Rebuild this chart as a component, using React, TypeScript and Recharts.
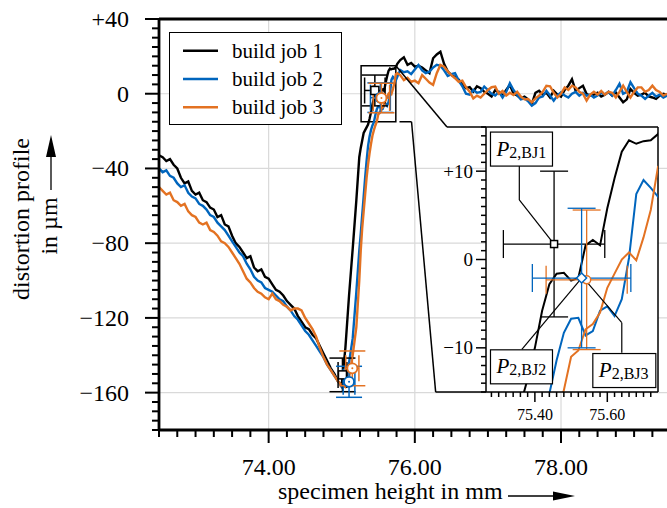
import React from 'react';
import {
  ComposedChart,
  Line,
  Scatter,
  XAxis,
  YAxis,
  CartesianGrid,
  ReferenceLine,
  ReferenceArea,
  ReferenceDot,
  ErrorBar,
  Legend,
} from 'recharts';

const FONT = "'Liberation Serif', 'Times New Roman', serif";
const C_BJ1 = '#000000';
const C_BJ2 = '#0065BD';
const C_BJ3 = '#E37222';

// specimen height in mm (shared sampling grid)
const heightMm = [
  72.5, 72.55, 72.6, 72.65, 72.7, 72.75, 72.8, 72.85, 72.9, 72.95,
  73.0, 73.05, 73.1, 73.15, 73.2, 73.25, 73.3, 73.35, 73.4, 73.45,
  73.5, 73.55, 73.6, 73.65, 73.7, 73.75, 73.8, 73.85, 73.9, 73.95,
  74.0, 74.05, 74.1, 74.15, 74.2, 74.25, 74.3, 74.35, 74.4, 74.45,
  74.5, 74.55, 74.6, 74.65, 74.7, 74.75, 74.8, 74.85, 74.9, 74.95,
  75.0, 75.05, 75.1, 75.15, 75.2,
  75.24, 75.26, 75.28, 75.3, 75.32, 75.34, 75.36, 75.38, 75.4, 75.42,
  75.44, 75.46, 75.48, 75.5, 75.52, 75.54, 75.56, 75.58, 75.6, 75.62,
  75.64, 75.66, 75.68, 75.7, 75.72, 75.74, 75.76,
  75.8, 75.85, 75.9, 75.95,
  76.0, 76.05, 76.1, 76.15, 76.2, 76.25, 76.3, 76.35, 76.4, 76.45,
  76.5, 76.55, 76.6, 76.65, 76.7, 76.75, 76.8, 76.85, 76.9, 76.95,
  77.0, 77.05, 77.1, 77.15, 77.2, 77.25, 77.3, 77.35, 77.4, 77.45,
  77.5, 77.55, 77.6, 77.65, 77.7, 77.75, 77.8, 77.85, 77.9, 77.95,
  78.0, 78.05, 78.1, 78.15, 78.2, 78.25, 78.3, 78.35, 78.4, 78.45,
  78.5, 78.55, 78.6, 78.65, 78.7, 78.75, 78.8, 78.85, 78.9, 78.95,
  79.0, 79.05, 79.1, 79.15, 79.2, 79.25, 79.3, 79.35, 79.4, 79.45,
];

// distortion profile in µm, build job 1
const bj1 = [
  -33, -34, -36, -35, -38, -40, -45, -48, -47, -52,
  -54, -53, -57, -58, -61, -62, -66, -65, -70, -71,
  -76, -80, -82, -85, -88, -87, -93, -95, -94, -98,
  -99, -102, -105, -106, -108, -111, -113, -115, -119, -122,
  -125, -126, -129, -131, -135, -139, -143, -147, -150, -154,
  -156, -136, -108, -83, -57,
  -34, -29, -25, -21, -19.5, -18, -16.5, -13.5, -10, -5.8,
  -2.8, -1.6, -1.5, -2.4, -2.1, 1.6, 2.2, 1.6, 5.8, 9.2,
  12.2, 13.5, 13.1, 13.4, 13.5, 14.2, 16,
  18, 19.5, 15.5, 16.5,
  14.5, 15, 14, 12.5, 11, 19, 21, 22.5, 16, 12,
  10, 9, 7.5, 5, 3, 3.5, 1.2, 4, 3, 1,
  0, -1.5, 2, 0.5, -1, 2, 4.7, 0.2, -1, -2.5,
  -1.6, -3, -5.5, 0.5, 1.6, -0.5, 0.5, -2, 1.6, -0.5,
  -1.5, 2, 4.3, 7.8, 1.6, 3, 4.3, -0.2, -1, -0.5,
  0.5, -1.5, -0.5, 1, -1, 0.7, -2, -4.6, -3, 2.5,
  0.5, -1, -0.5, 0.5, -1.5, -2, -2.8, -1, 0, -0.5,
];

// build job 2
const bj2 = [
  -40, -42, -41, -44, -45, -48, -50, -49, -53, -55,
  -56, -59, -60, -62, -65, -66, -69, -71, -73, -76,
  -79, -82, -85, -87, -91, -94, -98, -100, -101, -104,
  -105, -106, -108, -110, -111, -114, -116, -119, -121, -124,
  -127, -129, -132, -135, -138, -141, -145, -148, -151, -154,
  -157, -155, -144, -131, -106,
  -84, -75, -65, -55, -45, -36, -28, -23, -19.5, -17,
  -15.2, -11.4, -8.3, -6.7, -6.6, -8.6, -8.1, -5.8, -5.3, -6.4,
  -4.5, 0.2, 7.4, 9.0, 8.1, 7.1, 9,
  12.7, 11.5, 12, 10.5,
  13, 15.4, 12.5, 11, 11.8, 14, 15.5, 15, 12.5, 9.5,
  10.5, 11, 7, 4, 0, -0.5, 2, 0.5, 1, 3.8,
  2, 0, -1, 1, -2, 1, 5.6, 2, -0.5, -3,
  -2.5, -4, -6.4, -5, -2, -1.5, 1.6, -1, -3.7, -1,
  0.7, -1, -2, 0, 1, -1, 0.5, -1, -0.5, -2,
  -1, 0.5, -0.5, 1, -1, 2, 5.3, 0, 1, 6.2,
  3, 0, -1, -2.8, -1, 0.5, -1.5, -0.5, -2, -1,
];

// build job 3
const bj3 = [
  -50, -52, -54, -53, -57, -58, -60, -59, -63, -65,
  -66, -69, -70, -69, -73, -74, -76, -79, -80, -82,
  -85, -88, -91, -95, -99, -101, -104, -106, -107, -109,
  -110, -107, -110, -111, -113, -114, -116, -115, -115, -116,
  -120, -123, -126, -130, -136, -141, -145, -148, -151, -154,
  -156, -157, -152, -140, -125,
  -100, -84, -72, -63, -54, -45, -38, -32, -27, -22.5,
  -19.5, -17, -14.8, -11, -10.3, -7.9, -7.3, -6, -3.2, -1.6,
  0, 0.8, -0.1, 2.5, 5.6, 10.5, 11,
  10, 7.3, 8.5, 6.4,
  7, 5.6, 10, 8, 6, 4.7, 11, 15.4, 14.5, 12,
  10, 8.3, 6.4, 7, 3.5, 1.1, -2.5, -1, -2, 0,
  2, 3.5, 3.8, 0, 1.5, -1, 0.5, -0.7, 1, -1.5,
  -3, -2.8, -4.6, -2.5, -1, 1, 4.3, 4, 0.5, -2,
  0, 3.4, 2, 4.3, 3.4, 1, 0, -3.7, -0.5, 1,
  -0.5, 1.5, -0.5, 1, 0.5, -2, 1, 4.3, 1, -2,
  1, 3.4, 3.4, 1, 2, 4.3, 2, 1, -1, 0,
];

const seriesNames = ['build job 1', 'build job 2', 'build job 3'];

// characteristic points P1 and P2 with uncertainties
const ptX_BJ1 = [75.01, 75.453];
const ptY_BJ1 = [-150.5, 1.75];
const errX_BJ1 = [0.06, 0.14];
const errY_BJ1 = [9, 8.25];

const ptX_BJ2 = [75.1, 75.529];
const ptY_BJ2 = [-154.2, -2.1];
const errX_BJ2 = [0.08, 0.136];
const errY_BJ2 = [8.3, 7.9];

const ptX_BJ3 = [75.145, 75.543];
const ptY_BJ3 = [-147, -2.3];
const errX_BJ3 = [0.09, 0.112];
const errY_BJ3 = [9.3, 7.9];

// axis ticks
const xTicksMain = [
  72.5, 72.75, 73, 73.25, 73.5, 73.75, 74, 74.25, 74.5, 74.75, 75, 75.25, 75.5, 75.75,
  76, 76.25, 76.5, 76.75, 77, 77.25, 77.5, 77.75, 78, 78.25, 78.5, 78.75, 79, 79.25,
];
const xMajorMain = [74, 76, 78];
const yTicksMain = [
  -180, -175, -170, -165, -160, -155, -150, -145, -140, -135, -130, -125, -120, -115,
  -110, -105, -100, -95, -90, -85, -80, -75, -70, -65, -60, -55, -50, -45, -40, -35,
  -30, -25, -20, -15, -10, -5, 0, 5, 10, 15, 20, 25, 30, 35, 40,
];
const yMajorMain = [-160, -120, -80, -40, 0, 40];

const xTicksInset = [
  75.28, 75.3, 75.32, 75.34, 75.36, 75.38, 75.4, 75.42, 75.44, 75.46, 75.48, 75.5,
  75.52, 75.54, 75.56, 75.58, 75.6, 75.62, 75.64, 75.66, 75.68, 75.7, 75.72,
];
const xMajorInset = [75.4, 75.6];
const yTicksInset = [
  -15, -14, -13, -12, -11, -10, -9, -8, -7, -6, -5, -4, -3, -2, -1, 0,
  1, 2, 3, 4, 5, 6, 7, 8, 9, 10, 11, 12, 13, 14, 15,
];
const yMajorInset = [-10, 0, 10];

// zoom window
const zoomX = [75.265, 75.74];
const zoomY = [-15, 15];

const rows = heightMm.map((x, i) => ({ x, bj1: bj1[i], bj2: bj2[i], bj3: bj3[i] }));

const mkPts = (xs: number[], ys: number[], exs: number[], eys: number[]) =>
  xs.map((x, i) => ({ x, y: ys[i], ex: exs[i], ey: eys[i] }));

const ptsBJ1 = mkPts(ptX_BJ1, ptY_BJ1, errX_BJ1, errY_BJ1);
const ptsBJ2 = mkPts(ptX_BJ2, ptY_BJ2, errX_BJ2, errY_BJ2);
const ptsBJ3 = mkPts(ptX_BJ3, ptY_BJ3, errX_BJ3, errY_BJ3);

const inZoom = (p: { x: number; y: number }) =>
  p.x >= zoomX[0] && p.x <= zoomX[1] && p.y >= zoomY[0] && p.y <= zoomY[1];

const isIn = (arr: number[], v: number) => arr.some((m) => Math.abs(m - v) < 1e-6);
const fmtSigned = (v: number) => (v > 0 ? `+${v}` : v < 0 ? `\u2212${Math.abs(v)}` : '0');

function MainXTick(props: any) {
  const { x, y, payload } = props;
  const major = isIn(xMajorMain, payload.value);
  return (
    <g>
      <line x1={x} x2={x} y1={y} y2={y + (major ? 13 : 7)} stroke="#000" strokeWidth={2} />
      {major ? (
        <text x={x} y={y + 45} textAnchor="middle" fontFamily={FONT} fontSize={24} fill="#000">
          {Number(payload.value).toFixed(2)}
        </text>
      ) : null}
    </g>
  );
}

function MainYTick(props: any) {
  const { x, y, payload } = props;
  const major = isIn(yMajorMain, payload.value);
  return (
    <g>
      <line x1={x - (major ? 14 : 7)} x2={x} y1={y} y2={y} stroke="#000" strokeWidth={2} />
      {major ? (
        <text x={x - 30} y={y + 8} textAnchor="end" fontFamily={FONT} fontSize={24} fill="#000">
          {fmtSigned(payload.value)}
        </text>
      ) : null}
    </g>
  );
}

function InsetXTick(props: any) {
  const { x, y, payload } = props;
  const major = isIn(xMajorInset, payload.value);
  return (
    <g>
      <line x1={x} x2={x} y1={y} y2={y + (major ? 10 : 5)} stroke="#000" strokeWidth={1.5} />
      {major ? (
        <text x={x} y={y + 28} textAnchor="middle" fontFamily={FONT} fontSize={16} fill="#000">
          {Number(payload.value).toFixed(2)}
        </text>
      ) : null}
    </g>
  );
}

function InsetYTick(props: any) {
  const { x, y, payload } = props;
  const major = isIn(yMajorInset, payload.value);
  return (
    <g>
      <line x1={x - (major ? 10 : 5)} x2={x} y1={y} y2={y} stroke="#000" strokeWidth={1.5} />
      {major ? (
        <text x={x - 13} y={y + 6.5} textAnchor="end" fontFamily={FONT} fontSize={19} fill="#000">
          {fmtSigned(payload.value)}
        </text>
      ) : null}
    </g>
  );
}

const squareShape = (size: number, stroke: string) => (p: any) => {
  if (p.cx == null || p.cy == null) return <g />;
  return (
    <rect x={p.cx - size / 2} y={p.cy - size / 2} width={size} height={size} fill="#fff" stroke={stroke} strokeWidth={1.5} />
  );
};
const circleShape = (r: number, stroke: string) => (p: any) => {
  if (p.cx == null || p.cy == null) return <g />;
  return (
    <g>
      <circle cx={p.cx} cy={p.cy} r={r} fill="#fff" stroke={stroke} strokeWidth={1.8} />
      <circle cx={p.cx} cy={p.cy} r={1} fill={stroke} />
    </g>
  );
};
const diamondShape = (s: number, stroke: string) => (p: any) => {
  if (p.cx == null || p.cy == null) return <g />;
  const { cx, cy } = p;
  return (
    <polygon
      points={`${cx},${cy - s} ${cx + s},${cy} ${cx},${cy + s} ${cx - s},${cy}`}
      fill="#fff"
      stroke={stroke}
      strokeWidth={1.5}
    />
  );
};
const ringShape = (r: number, stroke: string) => (p: any) => {
  if (p.cx == null || p.cy == null) return <g />;
  return <circle cx={p.cx} cy={p.cy} r={r} fill="#fff" stroke={stroke} strokeWidth={1.5} />;
};

const calloutShape = (sub: string, w: number) => (p: any) => {
  if (p.cx == null || p.cy == null) return <g />;
  const { cx, cy } = p;
  return (
    <g>
      <rect x={cx - w / 2} y={cy - 17} width={w} height={34} fill="#fff" stroke="#000" strokeWidth={1.2} />
      <text x={cx - w / 2 + 6} y={cy + 6.5} fontFamily={FONT} fontSize={21} fill="#000">
        <tspan fontStyle="italic">P</tspan>
        <tspan fontSize={16} dy={2}>
          {sub}
        </tspan>
      </text>
    </g>
  );
};

function LegendBox(props: any) {
  const items = (props.payload || []).filter((e: any) => e.type !== 'none');
  return (
    <div
      style={{
        width: 173,
        height: 93,
        border: '1.3px solid #000',
        background: '#fff',
        boxSizing: 'border-box',
      }}
    >
      <svg width={171} height={91} style={{ display: 'block' }}>
        {items.map((e: any, i: number) => (
          <g key={i}>
            <line x1={13} x2={48} y1={17.7 + 28.3 * i} y2={17.7 + 28.3 * i} stroke={e.color} strokeWidth={2.5} />
            <text x={62} y={17.7 + 28.3 * i + 7} fontFamily={FONT} fontSize={21} fill="#000">
              {e.value}
            </text>
          </g>
        ))}
      </svg>
    </div>
  );
}

const ebProps = (c: string, w: number, sw: number) => ({ stroke: c, width: w, strokeWidth: sw });

export default function App() {
  return (
    <div style={{ position: 'absolute', left: 0, top: 0, width: 667, height: 508, overflow: 'hidden', background: '#fff' }}>
      <div style={{ position: 'absolute', left: 0, top: 0 }}>
        <ComposedChart width={667} height={508} data={rows} margin={{ top: 19, right: 0, bottom: 28, left: 99 }}>
          <CartesianGrid verticalValues={xMajorMain} horizontalValues={yMajorMain} stroke="#d9d9d9" strokeWidth={1.2} />
          <XAxis
            dataKey="x"
            type="number"
            domain={[72.5, 79.45]}
            allowDataOverflow
            ticks={xTicksMain}
            interval={0}
            tickSize={0}
            tickMargin={0}
            tickLine={false}
            axisLine={{ stroke: '#000', strokeWidth: 2.8 }}
            tick={MainXTick}
            height={50}
          />
          <YAxis
            type="number"
            domain={[-180, 40]}
            allowDataOverflow
            ticks={yTicksMain}
            interval={0}
            tickSize={0}
            tickMargin={0}
            tickLine={false}
            axisLine={{ stroke: '#000', strokeWidth: 2.8 }}
            tick={MainYTick}
            width={60}
          />
          <ReferenceLine y={40} stroke="#000" strokeWidth={2.8} />
          <Line dataKey="bj1" name={seriesNames[0]} stroke={C_BJ1} strokeWidth={2.4} dot={false} isAnimationActive={false} />
          <Line dataKey="bj2" name={seriesNames[1]} stroke={C_BJ2} strokeWidth={2.4} dot={false} isAnimationActive={false} />
          <Line dataKey="bj3" name={seriesNames[2]} stroke={C_BJ3} strokeWidth={2.4} dot={false} isAnimationActive={false} />
          <Scatter data={ptsBJ1} dataKey="y" legendType="none" shape={squareShape(8, C_BJ1)} isAnimationActive={false}>
            <ErrorBar dataKey="ey" direction="y" {...ebProps(C_BJ1, 13, 1.5)} />
            <ErrorBar dataKey="ex" direction="x" {...ebProps(C_BJ1, 13, 1.5)} />
          </Scatter>
          <Scatter data={ptsBJ2} dataKey="y" legendType="none" shape={circleShape(5, C_BJ2)} isAnimationActive={false}>
            <ErrorBar dataKey="ey" direction="y" {...ebProps(C_BJ2, 13, 1.5)} />
            <ErrorBar dataKey="ex" direction="x" {...ebProps(C_BJ2, 13, 1.5)} />
          </Scatter>
          <Scatter data={ptsBJ3} dataKey="y" legendType="none" shape={circleShape(5, C_BJ3)} isAnimationActive={false}>
            <ErrorBar dataKey="ey" direction="y" {...ebProps(C_BJ3, 13, 1.5)} />
            <ErrorBar dataKey="ex" direction="x" {...ebProps(C_BJ3, 13, 1.5)} />
          </Scatter>
          <ReferenceArea
            x1={zoomX[0]}
            x2={zoomX[1]}
            y1={zoomY[0]}
            y2={zoomY[1]}
            fill="none"
            fillOpacity={0}
            stroke="#000"
            strokeWidth={1.5}
          />
          <ReferenceLine segment={[{ x: 75.74, y: 15 }, { x: 76.44, y: -17.8 }]} stroke="#000" strokeWidth={1.5} />
          <ReferenceLine segment={[{ x: 76.44, y: -17.8 }, { x: 76.973, y: -17.8 }]} stroke="#000" strokeWidth={1.5} />
          <ReferenceLine segment={[{ x: 75.79, y: -15 }, { x: 75.955, y: -15 }]} stroke="#000" strokeWidth={1.5} />
          <ReferenceLine segment={[{ x: 75.955, y: -15 }, { x: 76.285, y: -159.7 }]} stroke="#000" strokeWidth={1.5} />
          <ReferenceLine segment={[{ x: 76.285, y: -159.7 }, { x: 76.973, y: -159.7 }]} stroke="#000" strokeWidth={1.5} />
          <Legend
            layout="vertical"
            align="center"
            verticalAlign="middle"
            wrapperStyle={{ left: 169, top: 31.7, width: 173, height: 93 }}
            content={(p: any) => <LegendBox payload={p.payload} />}
          />
        </ComposedChart>
      </div>

      <div style={{ position: 'absolute', left: 436, top: 112 }}>
        <ComposedChart width={231} height={330} data={rows} margin={{ top: 15, right: 9, bottom: 10, left: 0 }}>
          <CartesianGrid fill="#fff" horizontal={false} vertical={false} stroke="none" />
          <XAxis
            dataKey="x"
            type="number"
            domain={zoomX}
            allowDataOverflow
            ticks={xTicksInset}
            interval={0}
            tickSize={0}
            tickMargin={0}
            tickLine={false}
            axisLine={{ stroke: '#000', strokeWidth: 1.5 }}
            tick={InsetXTick}
            height={40}
          />
          <YAxis
            type="number"
            domain={zoomY}
            allowDataOverflow
            ticks={yTicksInset}
            interval={0}
            tickSize={0}
            tickMargin={0}
            tickLine={false}
            axisLine={{ stroke: '#000', strokeWidth: 1.5 }}
            tick={InsetYTick}
            width={50}
          />
          <ReferenceLine y={zoomY[1]} stroke="#000" strokeWidth={1.5} />
          <ReferenceLine x={zoomX[1]} stroke="#000" strokeWidth={1.5} />
          <Line dataKey="bj1" stroke={C_BJ1} strokeWidth={2} dot={false} legendType="none" isAnimationActive={false} />
          <Line dataKey="bj2" stroke={C_BJ2} strokeWidth={2} dot={false} legendType="none" isAnimationActive={false} />
          <Line dataKey="bj3" stroke={C_BJ3} strokeWidth={2} dot={false} legendType="none" isAnimationActive={false} />
          <ReferenceLine segment={[{ x: 75.357, y: 10.6 }, { x: 75.357, y: 6.74 }]} stroke="#000" strokeWidth={1.2} />
          <ReferenceLine segment={[{ x: 75.357, y: 6.74 }, { x: ptX_BJ1[1], y: ptY_BJ1[1] }]} stroke="#000" strokeWidth={1.2} />
          <ReferenceLine segment={[{ x: 75.364, y: -10.17 }, { x: ptX_BJ2[1], y: ptY_BJ2[1] }]} stroke="#000" strokeWidth={1.2} />
          <ReferenceLine segment={[{ x: 75.64, y: -10.55 }, { x: 75.64, y: -7.15 }]} stroke="#000" strokeWidth={1.2} />
          <ReferenceLine segment={[{ x: 75.64, y: -7.15 }, { x: 75.535, y: -2.13 }]} stroke="#000" strokeWidth={1.2} />
          <Scatter data={ptsBJ1.filter(inZoom)} dataKey="y" legendType="none" shape={squareShape(7, C_BJ1)} isAnimationActive={false}>
            <ErrorBar dataKey="ey" direction="y" {...ebProps(C_BJ1, 14, 1.3)} />
            <ErrorBar dataKey="ex" direction="x" {...ebProps(C_BJ1, 14, 1.3)} />
          </Scatter>
          <Scatter data={ptsBJ3.filter(inZoom)} dataKey="y" legendType="none" shape={ringShape(4, C_BJ3)} isAnimationActive={false}>
            <ErrorBar dataKey="ey" direction="y" {...ebProps(C_BJ3, 14, 1.3)} />
            <ErrorBar dataKey="ex" direction="x" {...ebProps(C_BJ3, 14, 1.3)} />
          </Scatter>
          <Scatter data={ptsBJ2.filter(inZoom)} dataKey="y" legendType="none" shape={diamondShape(5, C_BJ2)} isAnimationActive={false}>
            <ErrorBar dataKey="ey" direction="y" {...ebProps(C_BJ2, 14, 1.3)} />
            <ErrorBar dataKey="ex" direction="x" {...ebProps(C_BJ2, 14, 1.3)} />
          </Scatter>
          <ReferenceDot x={75.363} y={12.5} r={1} shape={calloutShape('2,BJ1', 62)} />
          <ReferenceDot x={75.363} y={-12.15} r={1} shape={calloutShape('2,BJ2', 62)} />
          <ReferenceDot x={75.647} y={-12.57} r={1} shape={calloutShape('2,BJ3', 63)} />
        </ComposedChart>
      </div>

      <svg style={{ position: 'absolute', left: 0, top: 0, pointerEvents: 'none' }} width={667} height={508}>
        <text transform="translate(29,219) rotate(-90)" textAnchor="middle" fontFamily={FONT} fontSize={24} fill="#000">
          distortion profile
        </text>
        <text transform="translate(57,226) rotate(-90)" textAnchor="middle" fontFamily={FONT} fontSize={24} fill="#000">
          in µm
        </text>
        <line x1={51} x2={51} y1={190} y2={155} stroke="#000" strokeWidth={1.3} />
        <polygon points="51,135 46,157 56,157" fill="#000" />
        <text x={278} y={499} fontFamily={FONT} fontSize={24} fill="#000">
          specimen height in mm
        </text>
        <line x1={508} x2={555} y1={496} y2={496} stroke="#000" strokeWidth={1.3} />
        <polygon points="575,496 553,491.5 553,500.5" fill="#000" />
      </svg>
    </div>
  );
}
